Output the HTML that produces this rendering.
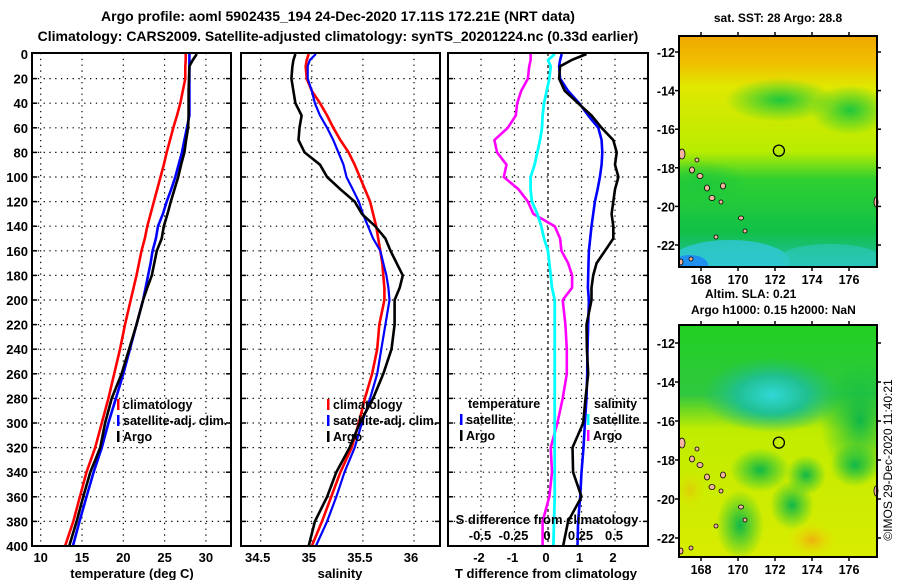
<!DOCTYPE html>
<html><head><meta charset="utf-8"><style>
body{margin:0;background:#fff;}
svg{display:block;font-family:"Liberation Sans",Arial,sans-serif;font-weight:bold;}
</style></head><body>
<svg id="c" width="900" height="580" viewBox="0 0 900 580">
<defs>
<radialGradient id="g1" cx="50%" cy="50%" r="50%"><stop offset="0" stop-color="#1ec83c"/><stop offset="1" stop-color="#1ec83c" stop-opacity="0"/></radialGradient>
<radialGradient id="gc" cx="50%" cy="50%" r="50%"><stop offset="0" stop-color="#30d8d8"/><stop offset="0.5" stop-color="#20c090"/><stop offset="1" stop-color="#20c070" stop-opacity="0"/></radialGradient>
<radialGradient id="gg" cx="50%" cy="50%" r="50%"><stop offset="0" stop-color="#10b848"/><stop offset="1" stop-color="#10c040" stop-opacity="0"/></radialGradient>
<radialGradient id="go" cx="50%" cy="50%" r="50%"><stop offset="0" stop-color="#f0b010"/><stop offset="1" stop-color="#e8e000" stop-opacity="0"/></radialGradient>
<linearGradient id="m1" x1="0" y1="0" x2="0" y2="1">
<stop offset="0" stop-color="#f0a800"/><stop offset="0.12" stop-color="#f0c000"/><stop offset="0.22" stop-color="#e0e800"/><stop offset="0.5" stop-color="#b8ec00"/><stop offset="0.62" stop-color="#30d030"/><stop offset="0.85" stop-color="#10c048"/><stop offset="1" stop-color="#20c0b0"/></linearGradient>
<linearGradient id="m2" x1="0" y1="0" x2="0" y2="1">
<stop offset="0" stop-color="#20d020"/><stop offset="0.3" stop-color="#30c840"/><stop offset="0.45" stop-color="#c0ec00"/><stop offset="1" stop-color="#d8ec00"/></linearGradient>
<clipPath id="cm1"><rect x="679" y="36" width="198" height="231"/></clipPath>
<clipPath id="cm2"><rect x="679" y="325" width="198" height="232"/></clipPath>
</defs>
<g id="titles">
<text x="338" y="21" font-size="14" text-anchor="middle">Argo profile: aoml 5902435_194 24-Dec-2020 17.11S 172.21E (NRT data)</text>
<text x="338" y="41" font-size="14" text-anchor="middle">Climatology: CARS2009. Satellite-adjusted climatology: synTS_20201224.nc (0.33d earlier)</text>
</g>
<g id="plots"></g>
<g id="maps">
<text x="778" y="22" font-size="12" text-anchor="middle">sat. SST: 28 Argo: 28.8</text>
<g clip-path="url(#cm1)">
<rect x="679" y="36" width="198" height="231" fill="url(#m1)"/>
<ellipse cx="780" cy="100" rx="55" ry="22" fill="url(#g1)"/>
<ellipse cx="850" cy="110" rx="40" ry="25" fill="url(#g1)"/>
<ellipse cx="700" cy="185" rx="50" ry="25" fill="url(#g1)"/>
<ellipse cx="730" cy="262" rx="60" ry="22" fill="#30c8d8" opacity="0.8"/>
<ellipse cx="690" cy="265" rx="18" ry="10" fill="#2090f0"/>
<ellipse cx="830" cy="258" rx="50" ry="14" fill="#30c8c0" opacity="0.6"/>
</g>
<g clip-path="url(#cm2)">
<rect x="679" y="325" width="198" height="232" fill="url(#m2)"/>
<ellipse cx="772" cy="395" rx="70" ry="38" fill="url(#gc)"/>
<ellipse cx="860" cy="420" rx="40" ry="60" fill="url(#gg)"/>
<ellipse cx="760" cy="470" rx="30" ry="22" fill="url(#gg)"/>
<ellipse cx="806" cy="475" rx="20" ry="20" fill="url(#gg)"/>
<ellipse cx="855" cy="465" rx="25" ry="22" fill="url(#gg)"/>
<ellipse cx="792" cy="505" rx="22" ry="25" fill="url(#gg)"/>
<ellipse cx="740" cy="525" rx="24" ry="35" fill="url(#gg)"/>
<ellipse cx="812" cy="540" rx="25" ry="18" fill="url(#go)"/>
<ellipse cx="690" cy="490" rx="15" ry="20" fill="url(#go)" opacity="0.5"/>
</g>
<g id="mapaxes"></g>
<text x="705" y="298" font-size="12">Altim. SLA: 0.21</text>
<text x="691" y="314" font-size="12">Argo h1000: 0.15 h2000: NaN</text>
<text transform="translate(892,460) rotate(-90)" font-size="12" font-weight="normal" text-anchor="middle">©IMOS 29-Dec-2020 11:40:21</text>
</g>
</svg>
<script>
const depths=[0,5,10,20,30,40,50,60,70,80,90,100,110,120,130,140,150,160,170,180,190,200,220,240,260,280,300,320,340,360,380,400];
const climT=[27.55,27.55,27.5,27.5,27.2,26.9,26.5,26.05,25.65,25.25,24.9,24.5,24.1,23.7,23.3,22.9,22.6,22.2,21.9,21.6,21.25,20.9,20.2,19.6,18.9,18.2,17.4,16.6,15.55,14.75,13.95,12.95];
const satT=[28.0,28.0,28.0,28.0,28.0,28.0,28.0,27.7,27.4,27.1,26.7,26.3,25.8,25.25,24.8,24.2,23.95,23.55,23.3,23.0,22.7,22.4,21.6,20.8,20.0,19.1,18.2,17.4,16.4,15.55,14.7,13.9];
const argoT=[28.9,28.4,28.0,27.95,27.9,27.9,27.9,27.85,27.6,27.4,27.0,26.65,26.2,25.75,25.35,24.9,24.65,24.05,23.75,23.45,22.9,22.4,21.6,20.7,19.8,18.6,17.8,17.2,16.0,15.15,14.35,13.45];
const climS=[34.97,34.95,34.94,34.95,35.0,35.08,35.15,35.21,35.28,35.36,35.42,35.47,35.52,35.57,35.6,35.63,35.65,35.67,35.69,35.7,35.71,35.71,35.66,35.64,35.59,35.52,35.46,35.39,35.28,35.19,35.1,35.0];
const satS=[35.04,34.98,34.96,34.96,35.0,35.03,35.08,35.15,35.21,35.26,35.31,35.34,35.4,35.46,35.5,35.55,35.6,35.67,35.7,35.73,35.75,35.76,35.72,35.68,35.64,35.57,35.49,35.42,35.32,35.24,35.15,35.04];
const argoS=[34.84,34.82,34.81,34.8,34.82,34.84,34.9,34.88,34.87,34.93,35.08,35.15,35.28,35.42,35.49,35.62,35.72,35.77,35.83,35.89,35.86,35.81,35.81,35.78,35.7,35.6,35.47,35.37,35.24,35.15,35.03,34.97];
const dTsat=[0.41,0.36,0.33,0.36,0.6,0.93,1.2,1.5,1.6,1.62,1.6,1.55,1.48,1.4,1.35,1.3,1.26,1.22,1.21,1.2,1.19,1.22,1.2,1.18,1.17,1.15,1.1,1.06,1.0,0.96,0.9,0.88];
const dTargo=[1.15,0.7,0.36,0.33,0.5,0.9,1.3,1.6,1.95,2.05,2.0,2.1,2.0,1.95,1.9,1.95,1.95,1.7,1.45,1.35,1.3,1.3,1.15,1.16,1.2,1.12,1.05,0.73,0.75,1.0,0.6,0.45];
const dSsat=[0.05,0.0,0.02,0.01,-0.01,-0.03,-0.04,-0.045,-0.06,-0.08,-0.1,-0.13,-0.13,-0.12,-0.08,-0.05,-0.03,0.0,0.01,0.02,0.03,0.05,0.05,0.05,0.05,0.05,0.05,0.05,0.05,0.05,0.045,0.04];
const dSargo=[-0.13,-0.13,-0.14,-0.15,-0.2,-0.23,-0.24,-0.3,-0.4,-0.38,-0.31,-0.33,-0.22,-0.15,-0.11,0.05,0.09,0.1,0.15,0.18,0.18,0.11,0.13,0.14,0.14,0.11,0.07,0.02,0.03,0.01,-0.04,-0.04];
const depthTicks=[0,20,40,60,80,100,120,140,160,180,200,220,240,260,280,300,320,340,360,380,400];
const tTicks=[10,15,20,25,30];
const sTicks=[34.5,35,35.5,36];
const sTickLabels=["34.5","35","35.5","36"];
const dTTicks=[-2,-1,0,1,2];
const dSTicks=[-0.5,-0.25,0,0.25,0.5];
const dSTickLabels=["-0.5","-0.25","0","0.25","0.5"];
const latTicks=[-12,-14,-16,-18,-20,-22];
const lonTicks=[168,170,172,174,176];
const argoLon=172.21, argoLat=-17.11;

const NS="http://www.w3.org/2000/svg";
function mk(tag,attrs,parent,txt){const e=document.createElementNS(NS,tag);for(const k in attrs)e.setAttribute(k,attrs[k]);if(txt!==undefined)e.textContent=txt;parent.appendChild(e);return e;}
const Y=d=>54+d*1.23;
const xT=t=>40.7+(t-10)*8.26;
const xS=s=>260.7+(s-34.5)*102.2;
const xdT=v=>548+v*33.5;
const xdS=v=>548+v*134;
const P=document.getElementById('plots');
const panels=[{x0:32,x1:231,name:'temperature-panel'},{x0:241,x1:440,name:'salinity-panel'},{x0:448,x1:648,name:'difference-panel'}];

function gridV(xs){xs.forEach(x=>{const l=mk('line',{x1:x,x2:x,y1:53,y2:546,stroke:'#000','stroke-width':1.2,'stroke-dasharray':'1.3,4.5'},P);

});}
panels.forEach(p=>{
  depthTicks.forEach(d=>{if(d===0||d===400)return;const l=mk('line',{x1:p.x0,x2:p.x1,y1:Y(d),y2:Y(d),stroke:'#000','stroke-width':1.2,'stroke-dasharray':'1.3,4.5'},P);
  
  
  mk('line',{x1:p.x0,x2:p.x0+5,y1:Y(d),y2:Y(d),stroke:'#000','stroke-width':1.5},P);
  mk('line',{x1:p.x1-5,x2:p.x1,y1:Y(d),y2:Y(d),stroke:'#000','stroke-width':1.5},P);});
});
gridV(tTicks.map(xT));
gridV(sTicks.map(xS));
gridV(dTTicks.filter(v=>v!==0).map(xdT));
const z=mk('line',{x1:xdT(0),x2:xdT(0),y1:53,y2:546,stroke:'#000','stroke-width':1.2,'stroke-dasharray':'3,3'},P);



function series(vals,fx,color,name,w){const pts=vals.map((v,i)=>fx(v).toFixed(1)+','+Y(depths[i]).toFixed(1)).join(' ');
const e=mk('polyline',{points:pts,fill:'none',stroke:color,'stroke-width':w||2.6,'stroke-linejoin':'round'},P);

}
series(climT,xT,'#f00','clim-temperature-line');
series(satT,xT,'#00f','satellite-temperature-line');
series(argoT,xT,'#000','argo-temperature-line');
series(climS,xS,'#f00','clim-salinity-line');
series(satS,xS,'#00f','satellite-salinity-line',2.2);
series(argoS,xS,'#000','argo-salinity-line');
series(dSargo,xdS,'#f0f','argo-salinity-diff-line');
series(dSsat,xdS,'#0ff','satellite-salinity-diff-line',2.8);
series(dTsat,xdT,'#00f','satellite-temperature-diff-line');
series(dTargo,xdT,'#000','argo-temperature-diff-line');

panels.forEach(p=>{const r=mk('rect',{x:p.x0,y:53,width:p.x1-p.x0,height:493,fill:'none',stroke:'#000','stroke-width':2},P);

});

depthTicks.forEach(d=>{const t=mk('text',{x:28,y:Y(d)+5,'font-size':13,'text-anchor':'end'},P,String(d));

});
tTicks.forEach(v=>{const t=mk('text',{x:xT(v),y:562,'font-size':13,'text-anchor':'middle'},P,String(v));

});
sTicks.forEach((v,i)=>{const t=mk('text',{x:xS(v)-3,y:562,'font-size':13,'text-anchor':'middle'},P,sTickLabels[i]);

});
dTTicks.forEach(v=>{const t=mk('text',{x:xdT(v)-2,y:562,'font-size':13,'text-anchor':'middle'},P,String(v));

});
dSTicks.forEach((v,i)=>{const t=mk('text',{x:xdS(v)-1,y:540,'font-size':13,'text-anchor':'middle'},P,dSTickLabels[i]);

});
[['temperature (deg C)',132,'x-axis-title-temperature'],['salinity',340,'x-axis-title-salinity'],['T difference from climatology',546,'x-axis-title-t-diff']].forEach(a=>{const t=mk('text',{x:a[1],y:578,'font-size':13,'text-anchor':'middle'},P,a[0]);

});
const sd=mk('text',{x:547,y:524,'font-size':13,'text-anchor':'middle'},P,'S difference from climatology');



function legend(x,y,color,label,name){mk('rect',{x:x,y:y-10,width:2.5,height:11,fill:color},P);
const t=mk('text',{x:x+6,y:y,'font-size':12.5},P,label);

}
legend(117,409,'#f00','climatology','legend-climatology');
legend(117,425,'#00f','satellite-adj. clim.','legend-satellite');
legend(117,441,'#000','Argo','legend-argo');
legend(327,409,'#f00','climatology','legend-climatology-s');
legend(327,425,'#00f','satellite-adj. clim.','legend-satellite-s');
legend(327,441,'#000','Argo','legend-argo-s');
const lt=mk('text',{x:468,y:408,'font-size':12.5},P,'temperature');


legend(460,424,'#00f','satellite','legend-t-satellite');
legend(460,440,'#000','Argo','legend-t-argo');
const ls=mk('text',{x:594,y:408,'font-size':12.5},P,'salinity');


legend(587,424,'#0ff','satellite','legend-s-satellite');
legend(587,440,'#f0f','Argo','legend-s-argo');

// maps
const M=document.getElementById('mapaxes');
const maps=[{x0:679,x1:877,y0:36,y1:267,lat12:52,lat22:245,name:'sst-map-frame'},{x0:679,x1:877,y0:325,y1:557,lat12:343,lat22:538,name:'sla-map-frame'}];
const lonX=l=>701+(l-168)*18.5;
maps.forEach(m=>{
  const latY=l=>m.lat12+(-12-l)*(m.lat22-m.lat12)/10;
  [[682,154,3,5],[692,170,2.5,3],[700,176,3,2.5],[707,188,2.5,3],[712,198,3,2.5],[721,202,2,2],[697,160,2,2],[723,186,2.5,3],[741,218,2.5,2],[745,231,2,2],[681,262,2,3],[691,259,2,2],[716,237,2,2],[876,202,2,5]].forEach(a=>{
    const dy=m.y0-36;const e=mk('ellipse',{cx:a[0],cy:a[1]+dy,rx:a[2],ry:a[3],fill:'#f4b4a0',stroke:'#000','stroke-width':0.8},M);
    
    });
  const r=mk('rect',{x:m.x0,y:m.y0,width:m.x1-m.x0,height:m.y1-m.y0,fill:'none',stroke:'#000','stroke-width':2},M);
  
  
  latTicks.forEach(l=>{const y=latY(l);mk('line',{x1:m.x0-4,x2:m.x0,y1:y,y2:y,stroke:'#000','stroke-width':1.5},M);mk('line',{x1:m.x1,x2:m.x1+4,y1:y,y2:y,stroke:'#000','stroke-width':1.5},M);
  const t=mk('text',{x:m.x0-4,y:y+5,'font-size':12.5,'text-anchor':'end'},M,String(l));
  
  });
  lonTicks.forEach(l=>{const x=lonX(l);mk('line',{x1:x,x2:x,y1:m.y0-4,y2:m.y0,stroke:'#000','stroke-width':1.5},M);mk('line',{x1:x,x2:x,y1:m.y1,y2:m.y1+4,stroke:'#000','stroke-width':1.5},M);
  const t=mk('text',{x:x,y:m.y1+17,'font-size':12.5,'text-anchor':'middle'},M,String(l));
  
  });
  const c=mk('circle',{cx:lonX(argoLon),cy:latY(argoLat),r:5.5,fill:'none',stroke:'#000','stroke-width':1.3},M);
  
  
});
</script>
</body></html>
